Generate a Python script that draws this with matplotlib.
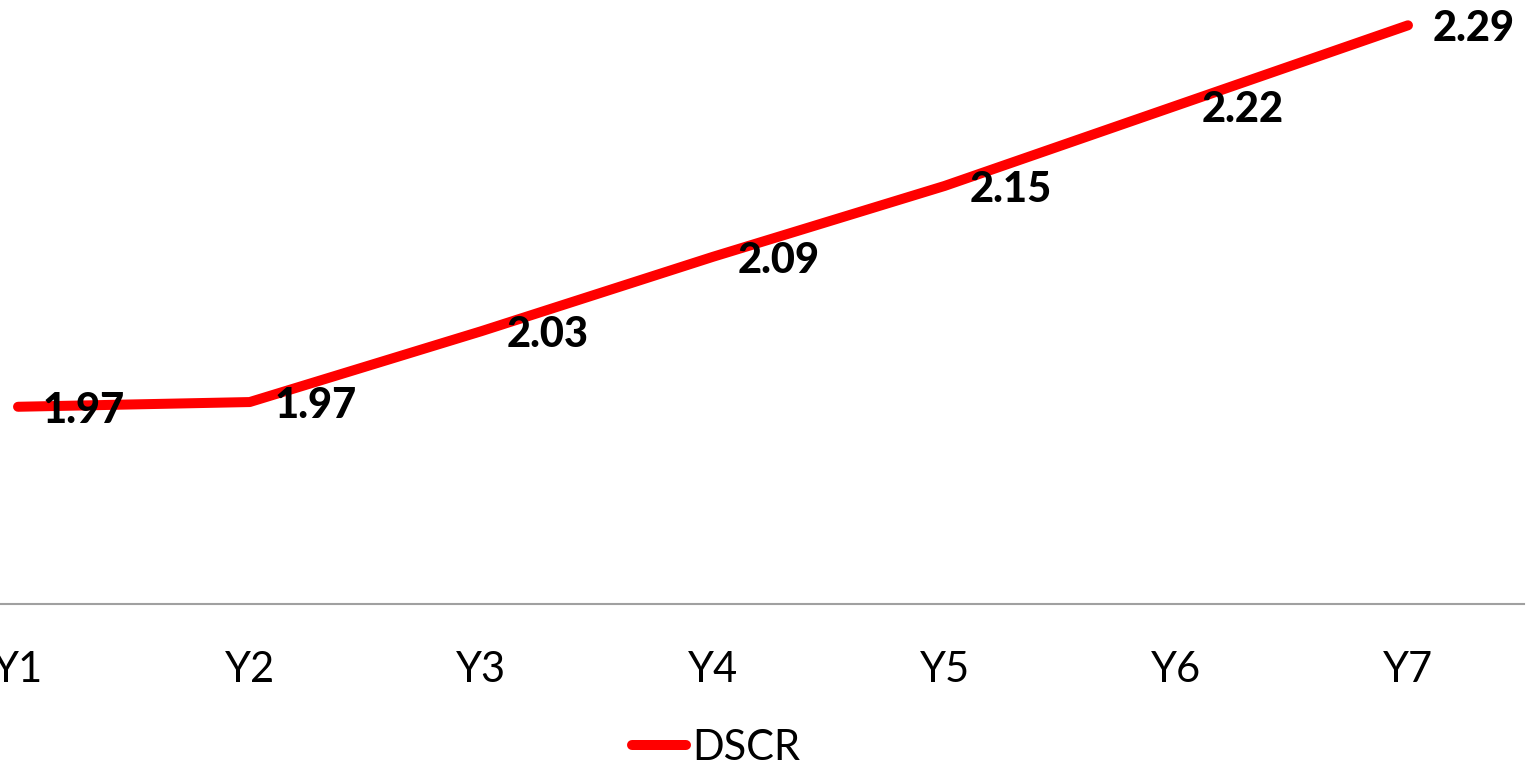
import matplotlib
matplotlib.use("Agg")
import matplotlib.pyplot as plt

categories = ["Y1", "Y2", "Y3", "Y4", "Y5", "Y6", "Y7"]
dscr = [1.967, 1.971, 2.031, 2.094, 2.154, 2.222, 2.290]
series_name = "DSCR"

plt.rcParams['font.family'] = ['Lato', 'DejaVu Sans']

W, H = 1529, 766
fig = plt.figure(figsize=(W / 100, H / 100), dpi=100)

# axes placement in pixels (left part of the chart is cropped in the reference)
left_px, right_px = -97.8, 1523.8
bottom_px, top_px = 604, 13.5
ax = fig.add_axes([left_px / W, 1 - bottom_px / H,
                   (right_px - left_px) / W, (bottom_px - top_px) / H])

x = list(range(len(categories)))
line, = ax.plot(x, dscr, color="#FF0000", lw=7.2, solid_capstyle="round",
                solid_joinstyle="round", label=series_name, clip_on=False)

for xi, v in zip(x, dscr):
    ax.annotate(f"{v:.2f}", (xi, v), xytext=(18, -11.5), textcoords="offset points",
                ha="left", va="baseline", fontsize=30, fontweight="black",
                color="black", annotation_clip=False)

ax.set_xlim(-0.5, len(categories) - 0.5)
ax.set_ylim(1.8, 2.3)
ax.set_xticks(x)
ax.set_xticklabels(categories, fontsize=30)
ax.tick_params(axis="x", length=0, pad=34)
ax.set_yticks([])
for s in ["top", "right", "left"]:
    ax.spines[s].set_visible(False)
ax.spines["bottom"].set_color("#A0A0A0")
ax.spines["bottom"].set_linewidth(1.5)
ax.patch.set_alpha(0)

fig.legend(handles=[line], loc="center", bbox_to_anchor=(716 / W, 1 - 748 / H),
           frameon=False, fontsize=30, handlelength=1.3, handletextpad=0.15,
           borderaxespad=0, borderpad=0)

fig.savefig("out.png", dpi=100)
